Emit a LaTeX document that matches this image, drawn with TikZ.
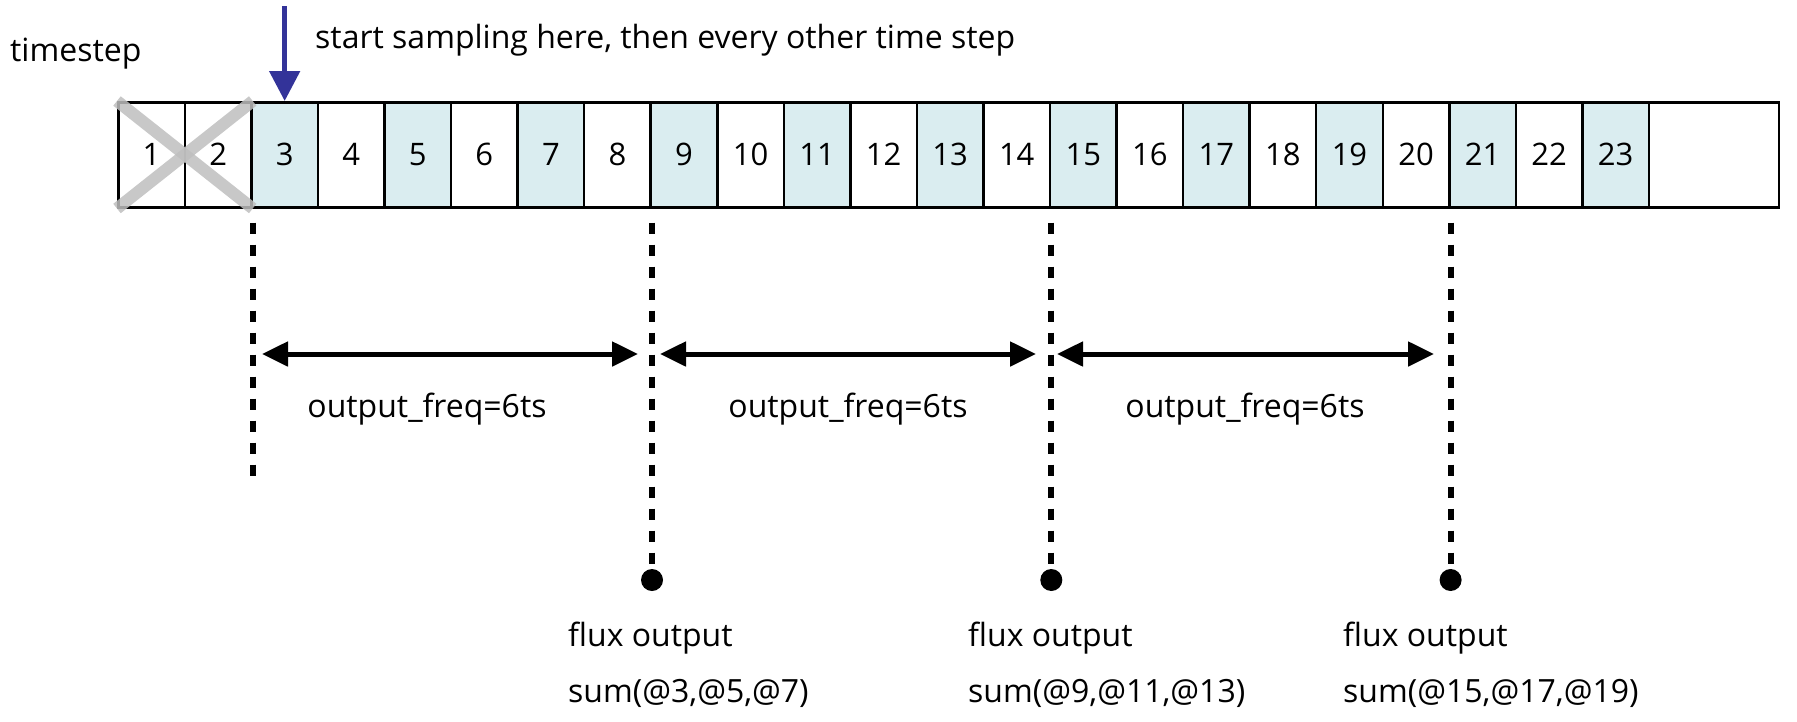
\documentclass[tikz,border=0pt]{standalone}
\usepackage{fontspec}
\setmainfont{Open Sans}
\usetikzlibrary{arrows.meta}
\definecolor{cellblue}{RGB}{218,237,240}
\definecolor{arrowblue}{RGB}{51,51,153}
\definecolor{crossgray}{RGB}{190,190,190}
\begin{document}
\begin{tikzpicture}[x=1pt,y=-1pt,
  cell/.style={draw=black, line width=2.5pt, minimum width=66.65pt, minimum height=105pt,
    inner sep=0pt, anchor=north west, font=\fontsize{31}{36}\selectfont},
  shadedcell/.style={cell, fill=cellblue},
  txt/.style={font=\fontsize{32}{38}\selectfont, inner sep=0pt},
  dashline/.style={line width=6pt, dash pattern=on 11pt off 11pt, shorten <=14pt},
  spanarrow/.style={line width=5pt, {Triangle[length=26pt,width=24pt]}-{Triangle[length=26pt,width=24pt]}},
  dot/.style={circle, fill=black, minimum size=22pt, inner sep=0pt},
  cross/.style={draw=crossgray, line width=12pt, opacity=0.85}
]
\useasboundingbox (0,0) rectangle (1797,721);

% cells
\foreach \i in {1,2,4,6,8,10,12,14,16,18,20,22} {
  \node[cell] (c\i) at ({117+(\i-1)*66.55},101) {\i};
}
\foreach \i in {3,5,7,9,11,13,15,17,19,21,23} {
  \node[shadedcell] (c\i) at ({117+(\i-1)*66.55},101) {\i};
}
\node[cell, minimum width=130pt] (cend) at ({117+23*66.55},101) {};

% cross over 1 and 2
\draw[cross] (c1.north west) -- (c2.south east);
\draw[cross] (c1.south west) -- (c2.north east);

% title texts
\node[txt, anchor=west] (ts) at (10,54) {timestep};
\node[txt, anchor=west] (start) at (315,40) {start sampling here, then every other time step};
\coordinate (arrowtop) at (c3.north |- 0,6);
\draw[arrowblue, line width=5pt, -{Triangle[length=30pt,width=30pt]}] (arrowtop) -- (c3.north);

% dashed lines and dots
\coordinate (b0) at (c2.south east |- 0,481);
\draw[dashline] (c2.south east) -- (b0);
\node[dot] (d1) at (c8.south east |- 0,580) {};
\node[dot] (d2) at (c14.south east |- 0,580) {};
\node[dot] (d3) at (c20.south east |- 0,580) {};
\draw[dashline] (c8.south east) -- (d1);
\draw[dashline] (c14.south east) -- (d2);
\draw[dashline] (c20.south east) -- (d3);

% span arrows
\coordinate (s1l) at (262,354); \coordinate (s1r) at (638,354);
\coordinate (s2l) at (660,354); \coordinate (s2r) at (1036,354);
\coordinate (s3l) at (1057,354); \coordinate (s3r) at (1434,354);
\draw[spanarrow] (s1l) -- (s1r);
\draw[spanarrow] (s2l) -- (s2r);
\draw[spanarrow] (s3l) -- (s3r);

\node[txt] (of1) at (427,409) {output\_freq=6ts};
\node[txt] (of2) at (848,409) {output\_freq=6ts};
\node[txt] (of3) at (1245,409) {output\_freq=6ts};

% flux outputs
\node[txt, anchor=west] (f1a) at (568,638) {flux output};
\node[txt, anchor=west] (f1b) at (568,693) {sum(@3,@5,@7)};
\node[txt, anchor=west] (f2a) at (968,638) {flux output};
\node[txt, anchor=west] (f2b) at (968,693) {sum(@9,@11,@13)};
\node[txt, anchor=west] (f3a) at (1343,638) {flux output};
\node[txt, anchor=west] (f3b) at (1343,693) {sum(@15,@17,@19)};
\end{tikzpicture}
\end{document}
